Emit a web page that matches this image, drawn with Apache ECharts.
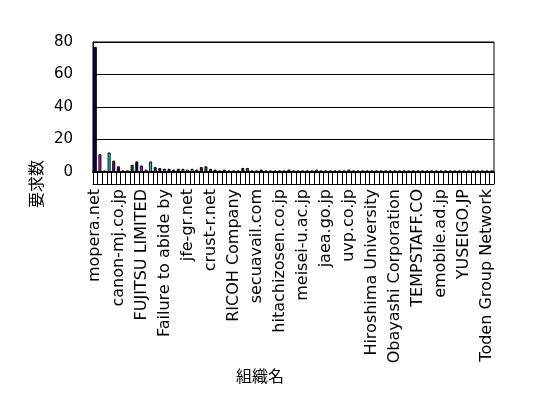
<!DOCTYPE html>
<html><head><meta charset="utf-8">
<script src="https://cdn.jsdelivr.net/npm/echarts@6/dist/echarts.min.js"></script>
<style>html,body{margin:0;padding:0;background:#fff}#c{width:548px;height:398px}</style>
</head><body><div id="c"></div>
<script>
// Visible category labels (every 5th organisation)
const labeledOrgs = ["mopera.net","canon-mj.co.jp","FUJITSU LIMITED","Failure to abide by","jfe-gr.net","crust-r.net","RICOH Company","secuavail.com","hitachizosen.co.jp","meisei-u.ac.jp","jaea.go.jp","uvp.co.jp","Hiroshima University","Obayashi Corporation","TEMPSTAFF.CO","emobile.ad.jp","YUSEIGO.JP","Toden Group Network"];
const labelStep = 5;
const categoryCount = 87;
// 要求数 per organisation
const requests = [77,11,1,12,7,3.5,1,1,4.5,6.5,4,1.5,6.5,3,2.5,2,2,1.5,2,2,
  1.5,2,1.5,3,3.5,2,1.5,1,1.5,1,1,1,2.5,2.5,1,1,1.5,1,1,1,
  1,1,1.5,1,1,1,1,1,1.5,1,1,1,1,1,1,1.5,1,1,1,1,
  1,1,1,1,1,1,1,1,1,1,1,1,1,1,1,1,1,1,1,1,
  1,1,1,1,1,1,1];
const yTicks = [0,20,40,60,80];
const yTitle = "要求数";
const xTitle = "組織名";

const categories = [];
for (let i = 0; i < categoryCount; i++) {
  categories.push(i % labelStep === 0 ? (labeledOrgs[i / labelStep] || "") : "");
}
const palette = ["#000080","#FF00FF","#FFFF00","#00FFFF","#800080","#800000","#008080","#0000FF","#008000"];
const font = "DejaVu Sans";
const chart = echarts.init(document.getElementById('c'), null, {renderer:'canvas'});
chart.setOption({
  animation:false,
  backgroundColor:'#fff',
  grid:{left:93,right:54,top:42,bottom:226,show:true,borderColor:'#000',borderWidth:1},
  xAxis:[{
    type:'category', data:categories, boundaryGap:true,
    axisLine:{lineStyle:{color:'#000',width:2}},
    axisTick:{show:true,interval:0,length:12,lineStyle:{color:'#000'}},
    axisLabel:{rotate:90,margin:17,color:'#000',fontFamily:font,fontSize:16,
      interval:function(i){return i % labelStep === 0;}},
  },{
    type:'category', data:categories, position:'bottom', offset:12,
    axisLine:{lineStyle:{color:'#000',width:1}},
    axisTick:{show:false}, axisLabel:{show:false}
  }],
  yAxis:{
    type:'value', min:yTicks[0], max:yTicks[yTicks.length-1], interval:20,
    axisLine:{show:true,lineStyle:{color:'#000'}},
    axisTick:{show:true,inside:true,length:5,lineStyle:{color:'#000'}},
    axisLabel:{color:'#000',fontFamily:font,fontSize:15,margin:20},
    splitLine:{show:true,lineStyle:{color:'#000',width:1}}
  },
  graphic:[
    {type:'text',left:28,top:160,rotation:Math.PI/2,style:{text:yTitle,font:'16px "Noto Sans CJK JP"',fill:'#000'}},
    {type:'text',left:236,top:368,style:{text:xTitle,font:'16px "Noto Sans CJK JP"',fill:'#000'}}
  ],
  series:[{
    type:'bar', xAxisIndex:0, data:requests, barWidth:3,
    itemStyle:{color:function(p){return palette[p.dataIndex % palette.length];},borderColor:'#000',borderWidth:1}
  }]
});
</script></body></html>
